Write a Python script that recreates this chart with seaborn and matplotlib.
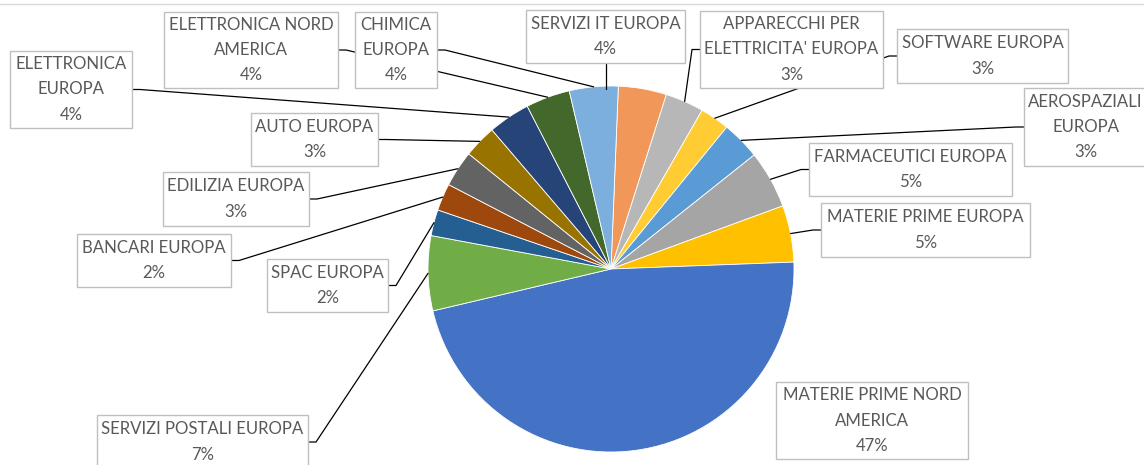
import numpy as np
import matplotlib
matplotlib.use("Agg")
import matplotlib.pyplot as plt
from matplotlib.patches import Rectangle
import seaborn as sb

# sectors, clockwise from the top of the pie
labels = ["SERVIZI IT EUROPA", "APPARECCHI PER\nELETTRICITA' EUROPA", "SOFTWARE EUROPA",
          "AEROSPAZIALI\nEUROPA", "FARMACEUTICI EUROPA", "MATERIE PRIME EUROPA",
          "MATERIE PRIME NORD\nAMERICA", "SERVIZI POSTALI EUROPA", "SPAC EUROPA",
          "BANCARI EUROPA", "EDILIZIA EUROPA", "AUTO EUROPA", "ELETTRONICA\nEUROPA",
          "ELETTRONICA NORD\nAMERICA", "CHIMICA\nEUROPA"]
shares = [4.25, 3.4, 2.6, 3.4, 5.1, 5.0, 46.9, 6.6, 2.3, 2.4, 3.2, 2.9, 3.7, 3.9, 4.3]
colors = ["#F1975A", "#B7B7B7", "#FFCD33", "#5B9BD5", "#A5A5A5", "#FFC000", "#4472C4",
          "#70AD47", "#255E91", "#9E480E", "#636363", "#997300", "#264478", "#43682B", "#7CAFDD"]

W, H = 1144, 465
# label boxes in pixels (x0, y0, x1, y1) and the side the leader line leaves from
boxes = [(526, 10, 685, 63, "bottom"), (700, 11, 883, 88, "left"), (897, 29, 1068, 83, "left"),
         (1024, 88, 1147, 166, "left"), (809, 143, 1012, 196, "left"), (821, 203, 1030, 257, "left"),
         (776, 382, 968, 459, None), (97, 415, 308, 469, "right"), (267, 259, 388, 312, "right"),
         (77, 234, 231, 287, "right"), (163, 172, 309, 226, "right"), (251, 113, 378, 166, "right"),
         (10, 51, 132, 128, "right"), (164, 12, 338, 88, "right"), (355, 12, 437, 88, "right")]

sb.set_theme(style="white")
plt.rcParams['font.family'] = ['Lato', 'DejaVu Sans']

fig = plt.figure(figsize=(W / 100, H / 100), dpi=100)
ax = fig.add_axes([0, 0, 1, 1])

cx, cy, r = 611, H - 269, 183
wedges, _ = ax.pie(shares, colors=colors, startangle=87.7, counterclock=False,
                   center=(cx, cy), radius=r,
                   wedgeprops=dict(edgecolor="white", linewidth=0.6))
ax.set_xlim(0, W)
ax.set_ylim(0, H)
ax.set_aspect("equal")
ax.set_axis_off()

total = sum(shares)
for w, lab, val, (x0, y0, x1, y1, side) in zip(wedges, labels, shares, boxes):
    # box rectangle (pixel coords, y flipped)
    ax.add_patch(Rectangle((x0, H - y1), x1 - x0, y1 - y0, facecolor="white",
                           edgecolor="#BFBFBF", linewidth=1.0, zorder=4))
    ax.text((x0 + x1) / 2, H - (y0 + y1) / 2, "%s\n%d%%" % (lab, round(val / total * 100)),
            ha="center", va="center", fontsize=12.1, color="#595959",
            linespacing=1.7, zorder=5)
    if side is None:
        continue
    mid = np.deg2rad((w.theta1 + w.theta2) / 2)
    px, py = cx + r * np.cos(mid), cy + r * np.sin(mid)
    if side == "bottom":
        bx, by = (x0 + x1) / 2, H - y1
        xs, ys = [bx, bx], [by, py]
    elif side == "left":
        bx, by = x0, H - (y0 + y1) / 2
        xs, ys = [bx, bx - 8, px], [by, by, py]
    else:
        bx, by = x1, H - (y0 + y1) / 2
        xs, ys = [bx, bx + 8, px], [by, by, py]
    ax.plot(xs, ys, color="black", linewidth=0.9, zorder=3)

# thin rule at the top edge
ax.plot([0, W], [H - 4, H - 4], color="#D9D9D9", linewidth=1.0, zorder=2)

fig.savefig("out.png", dpi=100)
